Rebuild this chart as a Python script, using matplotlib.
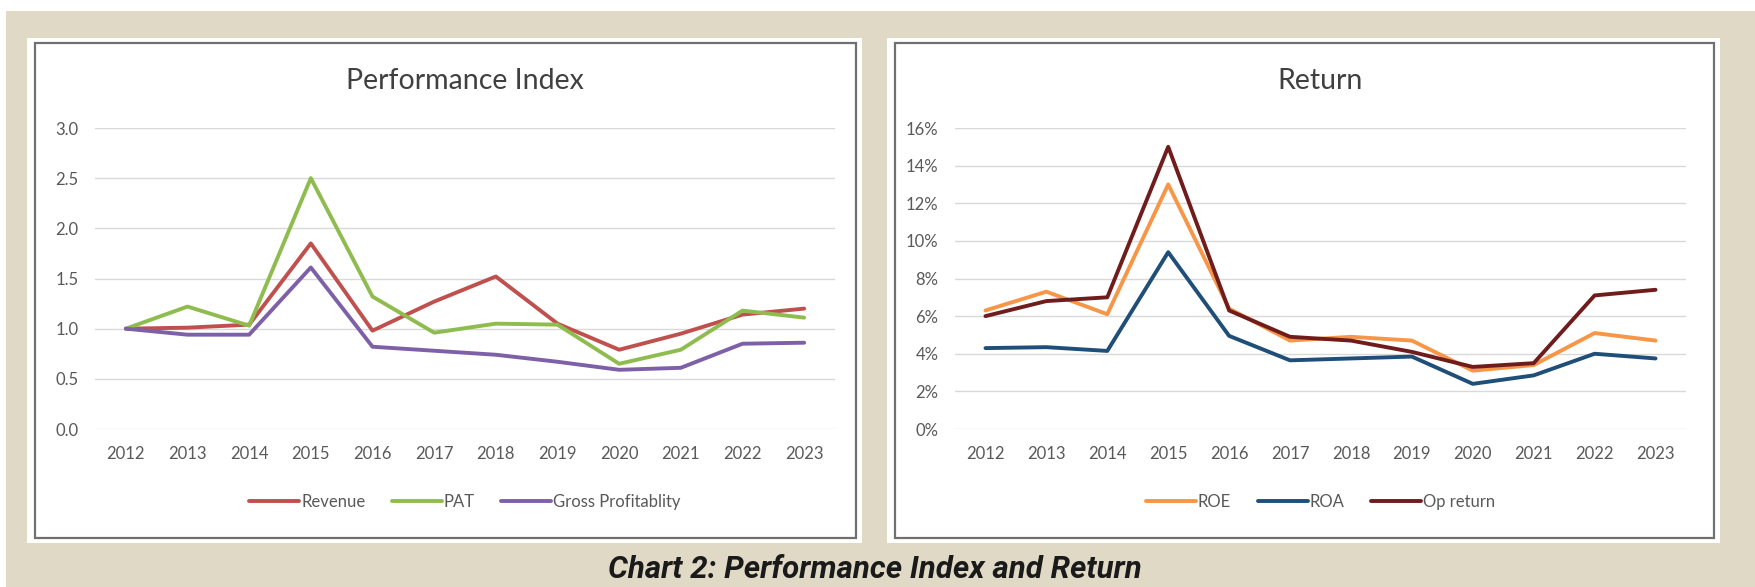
import matplotlib.pyplot as plt
from matplotlib.patches import Rectangle
from matplotlib.ticker import FuncFormatter

years = ["2012", "2013", "2014", "2015", "2016", "2017",
         "2018", "2019", "2020", "2021", "2022", "2023"]

# indice de desempeno
revenue = [1.00, 1.01, 1.04, 1.85, 0.98, 1.27, 1.52, 1.05, 0.79, 0.95, 1.14, 1.20]
pat = [1.00, 1.22, 1.03, 2.50, 1.32, 0.96, 1.05, 1.04, 0.65, 0.79, 1.18, 1.11]
gross = [1.00, 0.94, 0.94, 1.61, 0.82, 0.78, 0.74, 0.67, 0.59, 0.61, 0.85, 0.86]

# retornos (en %)
roe = [6.3, 7.3, 6.1, 13.0, 6.4, 4.7, 4.9, 4.7, 3.1, 3.4, 5.1, 4.7]
roa = [4.3, 4.35, 4.15, 9.4, 4.95, 3.65, 3.75, 3.85, 2.4, 2.85, 4.0, 3.75]
op_return = [6.0, 6.8, 7.0, 15.0, 6.3, 4.9, 4.7, 4.1, 3.3, 3.5, 7.1, 7.4]

W, H = 1756, 587
fig = plt.figure(figsize=(W / 100, H / 100), dpi=100)
fig.patch.set_facecolor("white")

def px_rect(x0, y0, x1, y1, **kw):
    # rectangulo en pixeles (origen arriba a la izquierda)
    r = Rectangle((x0 / W, 1 - y1 / H), (x1 - x0) / W, (y1 - y0) / H,
                  transform=fig.transFigure, **kw)
    fig.patches.append(r)

px_rect(6, 11, W, H, facecolor="#dfd9c5", edgecolor="none", zorder=0)
for x0, x1 in [(27, 862), (887, 1720)]:
    px_rect(x0, 38, x1, 543, facecolor="white", edgecolor="none", zorder=1)
    px_rect(x0 + 8, 43, x1 - 6, 538, facecolor="none", edgecolor="#707070",
            linewidth=1.6, zorder=2)

font = "Lato"
tick_color = "#595959"

def make_axes(x0, x1, title, series, ymax, ystep, fmt):
    ax = fig.add_axes([x0 / W, 1 - 429 / H, (x1 - x0) / W, 301 / H])
    ax.set_zorder(5)
    ax.set_facecolor("none")
    x = range(len(years))
    for vals, label, color in series:
        ax.plot(x, vals, color=color, linewidth=2.8, label=label,
                solid_capstyle="round")
    ax.set_xlim(-0.5, len(years) - 0.5)
    ax.set_ylim(0, ymax)
    ax.set_yticks([i * ystep for i in range(int(round(ymax / ystep)) + 1)])
    ax.yaxis.set_major_formatter(FuncFormatter(fmt))
    ax.set_xticks(list(x))
    ax.set_xticklabels(years)
    ax.grid(axis="y", color="#d9d9d9", linewidth=1.0)
    ax.set_axisbelow(True)
    for s in ax.spines.values():
        s.set_visible(False)
    ax.tick_params(length=0, colors=tick_color, labelsize=12, pad=12)
    for lab in ax.get_xticklabels() + ax.get_yticklabels():
        lab.set_fontfamily(font)
    ax.tick_params(axis="y", pad=12)
    ax.text(0.5, (429 - 81) / 301, title, transform=ax.transAxes,
            ha="center", va="center", fontsize=20.5, color="#404040",
            family=font)
    leg = ax.legend(loc="center", bbox_to_anchor=(0.5, -0.243), ncol=3,
                    frameon=False, handlelength=3.0, handletextpad=0.1,
                    columnspacing=1.6, prop={"family": font, "size": 12})
    for t in leg.get_texts():
        t.set_color(tick_color)
    return ax

make_axes(95, 835, "Performance Index",
          [(revenue, "Revenue", "#c0504d"),
           (pat, "PAT", "#8fbc4f"),
           (gross, "Gross Profitablity", "#7e60a8")],
          3.0, 0.5, lambda v, p: f"{v:.1f}")

make_axes(955, 1686, "Return",
          [(roe, "ROE", "#f79646"),
           (roa, "ROA", "#1f4e79"),
           (op_return, "Op return", "#701c1c")],
          16, 2, lambda v, p: f"{v:.0f}%")

fig.text(875 / W, 1 - 569 / H, "Chart 2: Performance Index and Return",
         ha="center", va="center", fontsize=22.5, fontweight="bold",
         fontstyle="italic", family="Roboto", color="#1a1a1a")

fig.savefig("out.png", dpi=100, facecolor=fig.get_facecolor())
